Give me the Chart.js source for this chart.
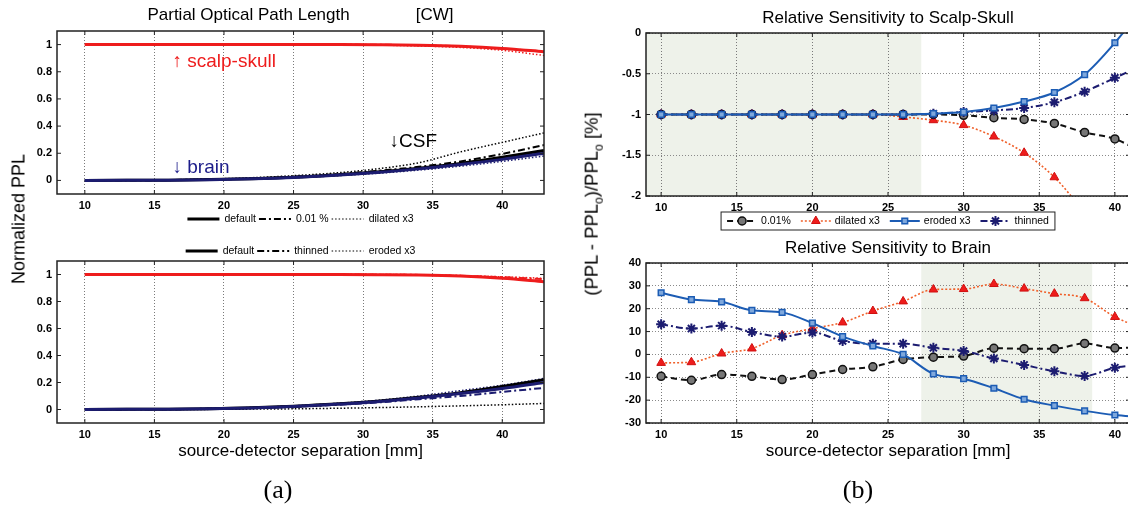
<!DOCTYPE html>
<html>
<head>
<meta charset="utf-8">
<script src="https://cdn.jsdelivr.net/npm/chart.js@4.4.1/dist/chart.umd.min.js"></script>
<style>
    html, body { margin: 0; padding: 0; background: #fff; overflow: hidden; width: 1128px; height: 512px; }
    canvas { position: absolute; display: block; }
    .lbl { position: absolute; font-family: "Liberation Sans", Arial, sans-serif; color: #000; white-space: nowrap; font-size: 18px; }
    .rot { transform: translate(-50%, -50%) rotate(-90deg); }
    .cap { position: absolute; font-family: "Liberation Serif", serif; font-size: 26px; transform: translate(-50%, -50%); }
</style>
</head>
<body>
<canvas id="tl" width="560" height="262" style="left:0;top:0"></canvas>
<canvas id="bl" width="560" height="276" style="left:0;top:236px"></canvas>
<canvas id="tr" width="560" height="240" style="left:580px;top:0"></canvas>
<canvas id="br" width="560" height="276" style="left:580px;top:236px"></canvas>

<div class="lbl rot" style="left:19px;top:219px">Normalized PPL</div>
<div class="lbl rot" style="left:593px;top:204px;font-size:18.5px">(PPL - PPL<sub style="font-size:12px">o</sub>)/PPL<sub style="font-size:12px">o</sub> [%]</div>
<div class="cap" style="left:278px;top:490px">(a)</div>
<div class="cap" style="left:858px;top:490px">(b)</div>

<script>
// ---- data -----------------------------------------------------------
// (a) normalized partial path length, read off every 3 mm
const sepA = [10, 13, 16, 19, 22, 25, 28, 31, 34, 37, 40, 43];

// top panel: default / 0.01 % / dilated x3
const skullDefault = [1, 1, 1, 1, 1, 1, 1, 0.999, 0.996, 0.988, 0.972, 0.947];
const skullLow     = [1, 1, 1, 1, 1, 1, 1, 0.999, 0.995, 0.987, 0.97, 0.95];
const skullDilated = [1, 1, 1, 1, 1, 1, 0.999, 0.996, 0.99, 0.979, 0.958, 0.92];
const brainDefault = [0, 0.001, 0.002, 0.005, 0.012, 0.022, 0.038, 0.058, 0.085, 0.118, 0.155, 0.2];
const brainLow     = [0, 0.001, 0.002, 0.006, 0.013, 0.024, 0.04, 0.062, 0.09, 0.125, 0.165, 0.21];
const brainDilated = [0, 0.001, 0.002, 0.005, 0.011, 0.02, 0.034, 0.052, 0.076, 0.105, 0.14, 0.18];
const csfDefault   = [0, 0.001, 0.002, 0.006, 0.013, 0.024, 0.04, 0.062, 0.09, 0.125, 0.17, 0.22];
const csfLow       = [0, 0.001, 0.003, 0.007, 0.015, 0.027, 0.045, 0.07, 0.1, 0.14, 0.195, 0.26];
const csfDilated   = [0, 0.001, 0.004, 0.01, 0.02, 0.035, 0.055, 0.085, 0.13, 0.21, 0.28, 0.35];

// bottom panel: default / thinned / eroded x3
const skullThinned = [1, 1, 1, 1, 1, 1, 1, 0.999, 0.997, 0.99, 0.98, 0.965];
const skullEroded  = [1, 1, 1, 1, 1, 1, 1, 1, 0.998, 0.992, 0.983, 0.972];
const brainThinned = [0, 0.001, 0.002, 0.005, 0.011, 0.02, 0.034, 0.052, 0.076, 0.1, 0.13, 0.16];
const brainEroded  = [0, 0.001, 0.003, 0.007, 0.015, 0.027, 0.045, 0.068, 0.1, 0.14, 0.18, 0.23];
const csfThinned   = [0, 0.001, 0.002, 0.006, 0.013, 0.024, 0.04, 0.06, 0.086, 0.118, 0.16, 0.2];
const csfEroded    = [0, 0, 0, 0.001, 0.003, 0.005, 0.009, 0.014, 0.02, 0.027, 0.035, 0.045];

// (b) relative sensitivity [%], markers every 2 mm
const sepB = [10, 12, 14, 16, 18, 20, 22, 24, 26, 28, 30, 32, 34, 36, 38, 40, 42];
const skullSensLow     = [-1, -1, -1, -1, -1, -1, -1, -1, -1, -1, -1.01, -1.04, -1.06, -1.11, -1.22, -1.3, -1.48];
const skullSensDilated = [-1, -1, -1, -1, -1, -1, -1, -1, -1.03, -1.07, -1.13, -1.27, -1.47, -1.77, -2.2, null, null];
const skullSensEroded  = [-1, -1, -1, -1, -1, -1, -1, -1, -1, -0.99, -0.97, -0.92, -0.84, -0.73, -0.51, -0.12, 0.35];
const skullSensThinned = [-1, -1, -1, -1, -1, -1, -1, -1, -1, -0.99, -0.97, -0.95, -0.92, -0.85, -0.72, -0.55, -0.38];

const brainSensLow     = [-9.6, -11.3, -8.8, -9.6, -11, -8.8, -6.6, -5.4, -2.2, -1.2, -0.7, 2.7, 2.5, 2.5, 4.8, 2.8, 3.2];
const brainSensDilated = [-3.7, -3.4, 0.4, 2.6, 8.4, 11.3, 14, 19, 23.2, 28.4, 28.6, 30.8, 28.8, 26.6, 24.6, 16.4, 11];
const brainSensEroded  = [27, 24, 23, 19.3, 18.4, 13.7, 7.8, 3.7, 0, -8.5, -10.6, -14.8, -19.6, -22.4, -24.7, -26.5, -27.5];
const brainSensThinned = [13.2, 11.3, 12.6, 9.8, 7.8, 9.6, 5.9, 4.7, 4.7, 2.9, 1.5, -1.8, -4.6, -7.4, -9.4, -5.8, -4.5];

// axes
const xTicks = [10, 15, 20, 25, 30, 35, 40];
const pplTicks = [0, 0.2, 0.4, 0.6, 0.8, 1];
const skullSensTicks = [0, -0.5, -1, -1.5, -2];
const brainSensTicks = [-30, -20, -10, 0, 10, 20, 30, 40];

// grey bands on (b)
const skullBand = [9, 27.2];
const brainBand = [27.2, 38.5];

// text tags in the top (a) panel
const tagText  = ['\u2191 scalp-skull', '\u2193 brain', '\u2193CSF'];
const tagX     = [16.3, 16.3, 31.9];
const tagY     = [0.87, 0.095, 0.285];
const tagColor = ['#ee1c1c', '#1c1c8a', '#000'];

// ---- styles ---------------------------------------------------------
const RED = '#ee1c1c';
const NAVY = '#1c1c70';
const DASH_DOT = [7, 3, 2, 3];
const DOTTED = [1.5, 2];
const FONT = '"Liberation Sans", Arial, sans-serif';

Chart.defaults.font.family = FONT;
Chart.defaults.color = '#000';
Chart.defaults.animation = false;

function curve(xs, ys, style) {
    return Object.assign({
        data: xs.map((x, i) => ({ x: x, y: ys[i] })),
        pointRadius: 0,
        fill: false,
        cubicInterpolationMode: 'monotone',
        borderDash: []
    }, style);
}

const solidA   = { borderWidth: 3 };
const dashDotA = { borderWidth: 2, borderDash: DASH_DOT };
const dottedA  = { borderWidth: 1.5, borderDash: DOTTED };

const lowB = { borderColor: '#111', borderWidth: 2, borderDash: [6, 4], pointStyle: 'circle', pointRadius: 4,
    pointBackgroundColor: '#777', pointBorderColor: '#111', pointBorderWidth: 1.5 };
const dilatedB = { borderColor: '#f0602a', borderWidth: 1.6, borderDash: [2, 2], pointStyle: 'triangle', pointRadius: 5,
    pointBackgroundColor: '#ee1c1c', pointBorderColor: '#d01010', pointBorderWidth: 1 };
const erodedB = { borderColor: '#1c5cb4', borderWidth: 2, pointStyle: 'rect', pointRadius: 4,
    pointBackgroundColor: '#7fa8dc', pointBorderColor: '#1c5cb4', pointBorderWidth: 1.5 };
const thinnedB = { borderColor: NAVY, borderWidth: 2, borderDash: DASH_DOT, pointStyle: 'star', pointRadius: 5,
    pointBackgroundColor: NAVY, pointBorderColor: NAVY, pointBorderWidth: 2 };

// ---- plugins --------------------------------------------------------
// MATLAB style box with inward ticks
const frameBox = {
    id: 'frameBox',
    afterDraw(chart) {
        const { ctx, chartArea: a, scales } = chart;
        ctx.save();
        ctx.strokeStyle = '#222';
        ctx.lineWidth = 1.5;
        ctx.strokeRect(a.left, a.top, a.right - a.left, a.bottom - a.top);
        ctx.lineWidth = 1;
        ctx.beginPath();
        scales.x.ticks.forEach(t => {
            const p = scales.x.getPixelForValue(t.value);
            ctx.moveTo(p, a.bottom); ctx.lineTo(p, a.bottom - 4);
            ctx.moveTo(p, a.top); ctx.lineTo(p, a.top + 4);
        });
        scales.y.ticks.forEach(t => {
            const p = scales.y.getPixelForValue(t.value);
            ctx.moveTo(a.left, p); ctx.lineTo(a.left + 4, p);
            ctx.moveTo(a.right, p); ctx.lineTo(a.right - 4, p);
        });
        ctx.stroke();
        ctx.restore();
    }
};

// plot title centred over the plot area (not over the whole canvas)
const areaTitle = {
    id: 'areaTitle',
    afterDraw(chart, args, opts) {
        if (!opts.text) return;
        const { ctx, chartArea: a } = chart;
        ctx.save();
        ctx.font = '17px ' + FONT;
        ctx.fillStyle = '#000';
        ctx.textAlign = 'center';
        ctx.textBaseline = 'middle';
        ctx.fillText(opts.text, (a.left + a.right) / 2, a.top - opts.gap);
        ctx.restore();
    }
};

const shadeBand = {
    id: 'shadeBand',
    beforeDraw(chart, args, opts) {
        if (!opts.range) return;
        const { ctx, chartArea: a, scales: { x } } = chart;
        const x0 = Math.max(a.left, x.getPixelForValue(opts.range[0]));
        const x1 = Math.min(a.right, x.getPixelForValue(opts.range[1]));
        ctx.save();
        ctx.fillStyle = opts.color;
        ctx.fillRect(x0, a.top, x1 - x0, a.bottom - a.top);
        ctx.restore();
    }
};

// legend drawn as line samples (with optional marker)
const lineKey = {
    id: 'lineKey',
    afterDraw(chart, args, opts) {
        if (!opts.items) return;
        const { ctx, chartArea: a } = chart;
        ctx.save();
        ctx.font = opts.font;
        const widths = opts.items.map(it => ctx.measureText(it.label).width);
        const n = opts.items.length;
        const total = widths.reduce((s, w) => s + w, 0) + n * (opts.sample + opts.gap) + (n - 1) * opts.spacing;
        let xPos = (a.left + a.right) / 2 - total / 2;
        const y = opts.below ? a.bottom + opts.offset : a.top - opts.offset;

        if (opts.boxed) {
            ctx.fillStyle = '#fff';
            ctx.strokeStyle = '#222';
            ctx.lineWidth = 1;
            ctx.fillRect(xPos - 6, y - 9, total + 12, 18);
            ctx.strokeRect(xPos - 6, y - 9, total + 12, 18);
        }
        opts.items.forEach((it, i) => {
            ctx.strokeStyle = it.borderColor || '#000';
            ctx.lineWidth = it.borderWidth;
            ctx.setLineDash(it.borderDash || []);
            ctx.beginPath();
            ctx.moveTo(xPos, y);
            ctx.lineTo(xPos + opts.sample, y);
            ctx.stroke();
            ctx.setLineDash([]);
            if (it.pointStyle) {
                ctx.fillStyle = it.pointBackgroundColor;
                ctx.strokeStyle = it.pointBorderColor;
                ctx.lineWidth = it.pointBorderWidth;
                Chart.helpers.drawPoint(ctx, {
                    pointStyle: it.pointStyle, radius: it.pointRadius,
                    borderWidth: it.pointBorderWidth, rotation: 0
                }, xPos + opts.sample / 2, y);
            }
            xPos += opts.sample + opts.gap;
            ctx.fillStyle = '#000';
            ctx.textAlign = 'left';
            ctx.textBaseline = 'middle';
            ctx.fillText(it.label, xPos, y);
            xPos += widths[i] + opts.spacing;
        });
        ctx.restore();
    }
};

const tissueTags = {
    id: 'tissueTags',
    afterDatasetsDraw(chart) {
        const { ctx, scales: { x, y } } = chart;
        ctx.save();
        ctx.font = '19px ' + FONT;
        ctx.textAlign = 'left';
        ctx.textBaseline = 'middle';
        tagText.forEach((t, i) => {
            ctx.fillStyle = tagColor[i];
            ctx.fillText(t, x.getPixelForValue(tagX[i]), y.getPixelForValue(tagY[i]));
        });
        ctx.restore();
    }
};

// ---- shared axis builders -------------------------------------------
function xAxis(min, max, height, title) {
    return {
        type: 'linear', min: min, max: max,
        afterBuildTicks: s => { s.ticks = xTicks.map(v => ({ value: v })); },
        afterFit: s => { s.height = height; },
        ticks: { font: { size: 11, weight: 'bold' }, padding: 5, callback: v => String(v) },
        grid: { color: '#7a7a7a', lineWidth: 1, drawTicks: false },
        border: { display: false, dash: [1, 2] },
        title: title ? { display: true, text: title, font: { size: 17 }, padding: 0 } : { display: false }
    };
}

function yAxis(min, max, tickVals, width, showGrid) {
    return {
        min: min, max: max,
        afterBuildTicks: s => { s.ticks = tickVals.map(v => ({ value: v })); },
        afterFit: s => { s.width = width; },
        ticks: { font: { size: 11, weight: 'bold' }, padding: 5, callback: v => String(v) },
        grid: { display: showGrid, color: '#8a8a8a', lineWidth: 1, drawTicks: false },
        border: { display: false, dash: [1, 2] }
    };
}

const baseOpts = {
    legend: { display: false },
    tooltip: { enabled: false },
    title: { display: false }
};

// Chart.js paints dataset 0 last, so the "default" curves come first to sit on top
// ---- (a) top --------------------------------------------------------
new Chart(document.getElementById('tl'), {
    type: 'line',
    data: {
        datasets: [
            curve(sepA, brainDefault, Object.assign({ borderColor: NAVY }, solidA)),
            curve(sepA, csfDefault, Object.assign({ borderColor: '#000' }, solidA)),
            curve(sepA, brainLow, Object.assign({ borderColor: NAVY }, dashDotA)),
            curve(sepA, csfLow, Object.assign({ borderColor: '#000' }, dashDotA)),
            curve(sepA, brainDilated, Object.assign({ borderColor: NAVY }, dottedA)),
            curve(sepA, csfDilated, Object.assign({ borderColor: '#000' }, dottedA)),
            curve(sepA, skullDefault, Object.assign({ borderColor: RED }, solidA)),
            curve(sepA, skullLow, Object.assign({ borderColor: RED }, dashDotA)),
            curve(sepA, skullDilated, Object.assign({ borderColor: RED }, dottedA))
        ]
    },
    options: {
        responsive: false, devicePixelRatio: 1,
        layout: { padding: { left: 0, right: 16, top: 31, bottom: 46 } },
        scales: { x: xAxis(8, 43, 22, null), y: yAxis(-0.1, 1.1, pplTicks, 57, false) },
        plugins: Object.assign({}, baseOpts, {
            areaTitle: { text: 'Partial Optical Path Length              [CW]', gap: 16 },
            lineKey: {
                below: true, offset: 25, font: '10.5px ' + FONT, sample: 32, gap: 5, spacing: 3,
                items: [
                    Object.assign({ label: 'default', borderColor: '#000' }, solidA),
                    Object.assign({ label: '0.01 %', borderColor: '#000' }, dashDotA),
                    Object.assign({ label: 'dilated x3', borderColor: '#000' }, dottedA, { borderWidth: 1 })
                ]
            }
        })
    },
    plugins: [frameBox, areaTitle, lineKey, tissueTags]
});

// ---- (a) bottom -----------------------------------------------------
new Chart(document.getElementById('bl'), {
    type: 'line',
    data: {
        datasets: [
            curve(sepA, brainDefault, Object.assign({ borderColor: NAVY }, solidA)),
            curve(sepA, csfDefault, Object.assign({ borderColor: '#000' }, solidA)),
            curve(sepA, brainThinned, Object.assign({ borderColor: NAVY }, dashDotA)),
            curve(sepA, csfThinned, Object.assign({ borderColor: '#000' }, dashDotA)),
            curve(sepA, brainEroded, Object.assign({ borderColor: NAVY }, dottedA)),
            curve(sepA, csfEroded, Object.assign({ borderColor: '#000' }, dottedA)),
            curve(sepA, skullDefault, Object.assign({ borderColor: RED }, solidA)),
            curve(sepA, skullThinned, Object.assign({ borderColor: RED }, dashDotA)),
            curve(sepA, skullEroded, Object.assign({ borderColor: RED }, dottedA))
        ]
    },
    options: {
        responsive: false, devicePixelRatio: 1,
        layout: { padding: { left: 0, right: 16, top: 25, bottom: 50 } },
        scales: { x: xAxis(8, 43, 39, 'source-detector separation [mm]'), y: yAxis(-0.1, 1.1, pplTicks, 57, false) },
        plugins: Object.assign({}, baseOpts, {
            lineKey: {
                below: false, offset: 10, font: '10.5px ' + FONT, sample: 32, gap: 5, spacing: 3,
                items: [
                    Object.assign({ label: 'default', borderColor: '#000' }, solidA),
                    Object.assign({ label: 'thinned', borderColor: '#000' }, dashDotA),
                    Object.assign({ label: 'eroded x3', borderColor: '#000' }, dottedA, { borderWidth: 1 })
                ]
            }
        })
    },
    plugins: [frameBox, lineKey]
});

// ---- (b) top --------------------------------------------------------
const keyB = [
    Object.assign({ label: '0.01%' }, lowB),
    Object.assign({ label: 'dilated x3' }, dilatedB),
    Object.assign({ label: 'eroded x3' }, erodedB),
    Object.assign({ label: 'thinned' }, thinnedB)
];

new Chart(document.getElementById('tr'), {
    type: 'line',
    data: {
        datasets: [
            curve(sepB, skullSensEroded, erodedB),
            curve(sepB, skullSensThinned, thinnedB),
            curve(sepB, skullSensLow, lowB),
            curve(sepB, skullSensDilated, dilatedB)
        ]
    },
    options: {
        responsive: false, devicePixelRatio: 1,
        layout: { padding: { left: 0, right: 10, top: 33, bottom: 22 } },
        scales: { x: xAxis(9, 41, 22, null), y: yAxis(-2, 0, skullSensTicks, 66, true) },
        plugins: Object.assign({}, baseOpts, {
            areaTitle: { text: 'Relative Sensitivity to Scalp-Skull', gap: 15 },
            shadeBand: { range: skullBand, color: '#eef2ea' },
            lineKey: { below: true, offset: 25, boxed: true, font: '10.5px ' + FONT, sample: 30, gap: 4, spacing: 10, items: keyB }
        })
    },
    plugins: [shadeBand, frameBox, areaTitle, lineKey]
});

// ---- (b) bottom -----------------------------------------------------
new Chart(document.getElementById('br'), {
    type: 'line',
    data: {
        datasets: [
            curve(sepB, brainSensEroded, erodedB),
            curve(sepB, brainSensThinned, thinnedB),
            curve(sepB, brainSensLow, lowB),
            curve(sepB, brainSensDilated, dilatedB)
        ]
    },
    options: {
        responsive: false, devicePixelRatio: 1,
        layout: { padding: { left: 0, right: 10, top: 27, bottom: 50 } },
        scales: { x: xAxis(9, 41, 39, 'source-detector separation [mm]'), y: yAxis(-30, 40, brainSensTicks, 66, true) },
        plugins: Object.assign({}, baseOpts, {
            areaTitle: { text: 'Relative Sensitivity to Brain', gap: 15 },
            shadeBand: { range: brainBand, color: '#eef2ea' }
        })
    },
    plugins: [shadeBand, frameBox, areaTitle]
});
</script>
</body>
</html>
